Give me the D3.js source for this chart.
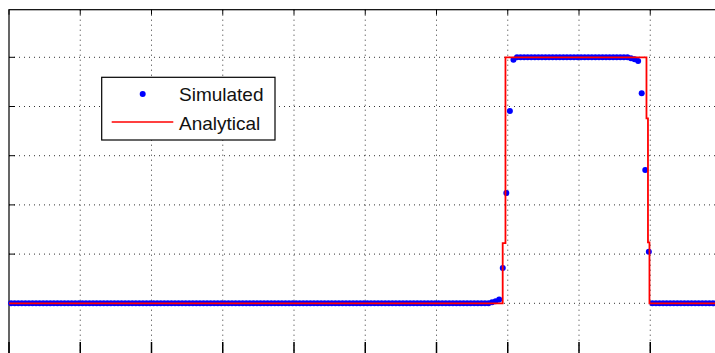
<!DOCTYPE html>
<html>
<head>
<meta charset="utf-8">
<script src="https://cdn.jsdelivr.net/npm/d3@7"></script>
<style>
  body { margin: 0; background: #fff; }
  svg { display: block; }
  .grid line { stroke: #333; stroke-width: 1; stroke-dasharray: 1 4; }
  .legend-text { font-family: "Liberation Sans", Arial, sans-serif; font-size: 19px; fill: #111; }
</style>
</head>
<body>
<div id="chart"></div>
<script>
// Data
const xStart = 0.03;
const xStep = 0.05;

const simY = [
  0,0,0,0,0,0,0,0,0,0,0,0,0,0,0,
  0,0,0,0,0,0,0,0,0,0,0,0,0,0,0,
  0,0,0,0,0,0,0,0,0,0,0,0,0,0,0,
  0,0,0,0,0,0,0,0,0,0,0,0,0,0,0,
  0,0,0,0,0,0,0,0,0,0,0,0,0,0,0,
  0,0,0,0,0,0,0,0,0,0,0,0,0,0,0,
  0,0,0,0,0,0,0,0,0,0,0,0,0,0,0,
  0,0,0,0,0,0,0,0,0,0,0,0,0,0,0,
  0,0,0,0,0,0,0,0,0,0,0,0,0,0,0,
  0.004, 0.008, 0.015,
  0.1435, 0.448, 0.782, 0.99,
  1,1,1,1,1,1,1,1,1,1,1,1,1,1,1,1,1,
  1,1,1,1,1,1,1,1,1,1,1,1,1,1,1,0.996,0.992,
  0.985, 0.854, 0.542, 0.21,
  0,0,0,0,0,0,0,0,0,0,0,0,0,0,0,0,0,0,0,0
];

const anaX = [0, 6.929, 6.929, 6.968, 6.968, 8.947, 8.947, 8.968, 8.968, 8.989, 8.989, 10];
const anaY = [0, 0, 0.245, 0.245, 1, 1, 0.752, 0.752, 0.248, 0.248, 0, 0];

const xTicks = [0, 1, 2, 3, 4, 5, 6, 7, 8, 9, 10];
const yTicks = [0, 0.2, 0.4, 0.6, 0.8, 1.0];

const legendLabels = ["Simulated", "Analytical"];

// Config
const width = 715;
const height = 353;
const axLeft = 9, axTop = 9.7, axBottom = 357;

const x = d3.scaleLinear().domain([0, 10]).range([axLeft, axLeft + 712.5]);
const y = d3.scaleLinear().domain([0, 1]).range([303.3, 57.3]);
const axRight = x(10);

const svg = d3.select("#chart").append("svg")
    .attr("width", width)
    .attr("height", height);

svg.append("defs").append("clipPath").attr("id", "clip")
  .append("rect")
    .attr("x", axLeft).attr("y", axTop)
    .attr("width", axRight - axLeft).attr("height", axBottom - axTop);

// Grid
const grid = svg.append("g").attr("class", "grid");
grid.selectAll(".vx")
  .data(xTicks.filter(d => d > 0 && d < 10))
  .join("line")
    .attr("x1", d => x(d)).attr("x2", d => x(d))
    .attr("y1", axTop).attr("y2", axBottom);
grid.selectAll(".hy")
  .data(yTicks)
  .join("line")
    .attr("x1", axLeft).attr("x2", axRight)
    .attr("y1", d => y(d)).attr("y2", d => y(d));

// Axes box and ticks
const axes = svg.append("g").attr("stroke", "#000");
axes.append("rect")
    .attr("x", axLeft).attr("y", axTop)
    .attr("width", axRight - axLeft).attr("height", axBottom - axTop)
    .attr("fill", "none").attr("stroke-width", 1.2);

axes.selectAll(".tt")
  .data(xTicks)
  .join("line")
    .attr("x1", d => x(d)).attr("x2", d => x(d))
    .attr("y1", axTop).attr("y2", axTop + 5);
axes.selectAll(".tb")
  .data(xTicks)
  .join("line")
    .attr("x1", d => x(d)).attr("x2", d => x(d))
    .attr("y1", axBottom).attr("y2", 342)
    .attr("stroke-width", 1.5);
axes.selectAll(".tl")
  .data(yTicks)
  .join("line")
    .attr("x1", axLeft).attr("x2", axLeft + 6)
    .attr("y1", d => y(d)).attr("y2", d => y(d));

// Simulated markers
const simData = simY.map((v, i) => [xStart + i * xStep, v]);
svg.append("g")
  .selectAll("circle")
  .data(simData)
  .join("circle")
    .attr("cx", d => x(d[0]))
    .attr("cy", d => y(d[1]))
    .attr("r", 3)
    .attr("fill", "#0000ff");

// Analytical line
const line = d3.line()
    .x(d => x(d[0]))
    .y(d => y(d[1]));

svg.append("path")
    .datum(anaX.map((d, i) => [d, anaY[i]]))
    .attr("clip-path", "url(#clip)")
    .attr("d", line)
    .attr("fill", "none")
    .attr("stroke", "#ff0000")
    .attr("stroke-width", 1.8);

// Legend
const lg = svg.append("g");
lg.append("rect")
    .attr("x", 101.7).attr("y", 77.3)
    .attr("width", 173.3).attr("height", 62.7)
    .attr("fill", "#fff")
    .attr("stroke", "#000")
    .attr("stroke-width", 1.2);
lg.append("circle")
    .attr("cx", 142.7).attr("cy", 94)
    .attr("r", 3)
    .attr("fill", "#0000ff");
lg.append("line")
    .attr("x1", 111.7).attr("x2", 173.3)
    .attr("y1", 122).attr("y2", 122)
    .attr("stroke", "#ff0000")
    .attr("stroke-width", 1.5);
lg.selectAll("text")
  .data(legendLabels)
  .join("text")
    .attr("class", "legend-text")
    .attr("x", 179)
    .attr("y", (d, i) => 101 + i * 28.5)
    .text(d => d);
</script>
</body>
</html>
